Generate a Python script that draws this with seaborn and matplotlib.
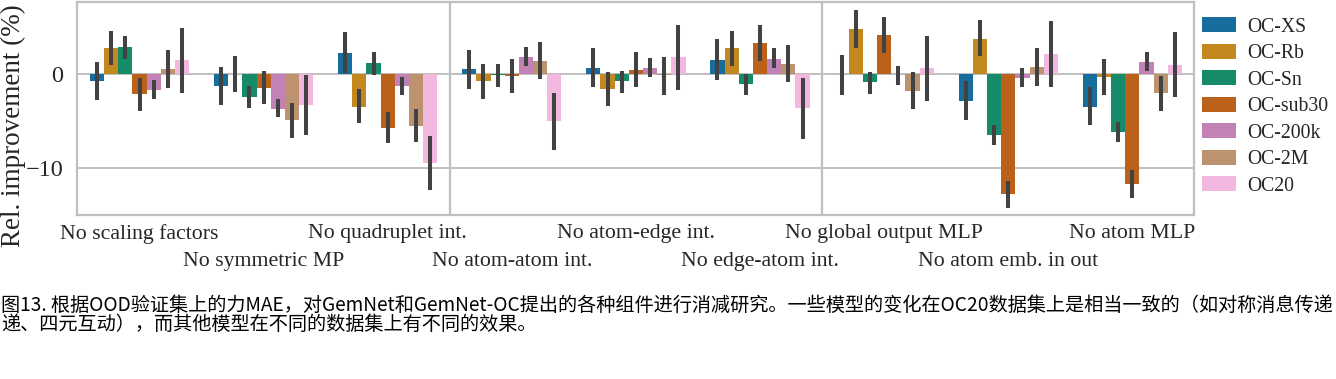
import numpy as np
import pandas as pd
import matplotlib
matplotlib.use("Agg")
import matplotlib.pyplot as plt
import seaborn as sns

# ablations (x axis)
ablations = ["No scaling factors", "No symmetric MP", "No quadruplet int.",
             "No atom-atom int.", "No atom-edge int.", "No edge-atom int.",
             "No global output MLP", "No atom emb. in out", "No atom MLP"]
datasets = ["OC-XS", "OC-Rb", "OC-Sn", "OC-sub30", "OC-200k", "OC-2M", "OC20"]

# relative improvement (%) per dataset, one value per ablation
oc_xs = [-0.8, -1.3, 2.25, 0.5, 0.65, 1.5, -0.05, -2.85, -3.5]
oc_rb = [2.75, 0.0, -3.5, -0.75, -1.6, 2.7, 4.8, 3.75, -0.35]
oc_sn = [2.85, -2.5, 1.15, -0.1, -0.75, -1.1, -0.9, -6.5, -6.2]
oc_sub30 = [-2.15, -1.5, -5.75, -0.2, 0.45, 3.3, 4.1, -12.8, -11.7]
oc_200k = [-1.7, -3.7, -1.3, 1.75, 0.65, 1.6, -0.05, -0.45, 1.3]
oc_2m = [0.55, -4.9, -5.5, 1.4, -0.1, 1.0, -1.8, 0.75, -2.05]
oc20 = [1.5, -3.3, -9.5, -5.05, 1.75, -3.65, 0.6, 2.15, 0.95]

# error bar ends (low, high)
err_lo = [
    [-2.8, -3.3, 0.1, -1.6, -1.45, -0.65, -2.2, -4.9, -5.45],
    [0.9, -1.9, -5.25, -2.65, -3.45, 0.8, 2.75, 1.85, -2.2],
    [1.6, -3.6, -0.1, -1.35, -2.0, -2.2, -2.1, -7.6, -7.3],
    [-3.9, -3.25, -7.4, -2.0, -1.35, 1.4, 2.2, -14.3, -13.2],
    [-2.7, -4.6, -2.3, 0.8, -0.35, 0.6, -1.2, -1.45, 0.3],
    [-1.5, -6.8, -7.3, -0.6, -2.2, -0.9, -3.7, -1.3, -4.0],
    [-2.0, -6.5, -12.4, -8.1, -1.7, -6.9, -2.85, -1.35, -2.5],
]
err_hi = [
    [1.3, 0.7, 4.5, 2.5, 2.8, 3.7, 1.95, -0.8, -1.45],
    [4.6, 1.9, -1.6, 1.0, 0.15, 4.6, 6.75, 5.75, 1.55],
    [4.0, -1.3, 2.3, 1.0, 0.35, 0.0, 0.15, -5.45, -5.15],
    [-0.4, 0.25, -4.1, 1.55, 2.3, 5.2, 6.0, -11.4, -10.2],
    [-0.65, -2.7, -0.3, 2.9, 1.65, 2.7, 0.85, 0.6, 2.35],
    [2.5, -3.1, -3.7, 3.4, 1.75, 3.1, 0.15, 2.75, -0.2],
    [4.9, -0.1, -6.6, -2.0, 5.2, -0.45, 4.05, 5.65, 4.4],
]

values = [oc_xs, oc_rb, oc_sn, oc_sub30, oc_200k, oc_2m, oc20]
rows = []
for d, vals in zip(datasets, values):
    for a, v in zip(ablations, vals):
        rows.append({"ablation": a, "dataset": d, "value": v})
df = pd.DataFrame(rows)

sns.set_theme(style="whitegrid", palette="colorblind")
plt.rcParams["font.family"] = ["Liberation Serif", "DejaVu Serif"]

fig = plt.figure(figsize=(13.36, 3.79), dpi=100)
ax = fig.add_axes([0.058, 0.433, 0.836, 0.562])

sns.barplot(data=df, x="ablation", y="value", hue="dataset", order=ablations,
            hue_order=datasets, palette="colorblind", errorbar=None,
            saturation=0.75, linewidth=0, ax=ax)

# error bars on the drawn bars
for j, cont in enumerate(ax.containers):
    for i, bar in enumerate(cont.patches):
        xc = bar.get_x() + bar.get_width() / 2
        ax.vlines(xc, err_lo[j][i], err_hi[j][i], color=".26", lw=2.9, zorder=5)

# separators between groups of ablations
for xs in [2.5, 5.5]:
    ax.axvline(xs, color=".75", lw=1.6, zorder=1)

ax.set_xlim(-0.5, len(ablations) - 0.5)
ax.set_ylim(-15.0, 7.65)
ax.set_yticks([-10, 0])
ax.set_yticklabels(["\u221210", "0"], fontsize=17.5)
ax.set_xlabel("")
ax.set_ylabel("Rel. improvement (%)", fontsize=19.5)
ax.yaxis.set_label_coords(-0.0457, 0.418)
ax.grid(axis="x", visible=False)
ax.grid(axis="y", color=".75", lw=1.4)
for s in ax.spines.values():
    s.set_color(".75")
    s.set_linewidth(1.6)

ax.set_xticks(range(len(ablations)))
ax.set_xticklabels(ablations, fontsize=15.7)
ax.tick_params(axis="x", pad=0.5)
ax.tick_params(axis="y", pad=4)
# every other label goes on a second row
for i, tick in enumerate(ax.xaxis.get_major_ticks()):
    if i % 2 == 1:
        tick.set_pad(20.7)

ax.legend(loc="upper left", bbox_to_anchor=(1.0, 0.965), frameon=False,
          fontsize=14.2, handlelength=1.7, handleheight=0.8,
          labelspacing=0.36, borderaxespad=0.0, handletextpad=0.6)

cap1 = ("图13. 根据OOD验证集上的力MAE，对GemNet和GemNet-OC提出的各种组件进行消减研究。"
        "一些模型的变化在OC20数据集上是相当一致的（如对称消息传递")
cap2 = "递、四元互动），而其他模型在不同的数据集上有不同的效果。"
fig.text(0.001, 1 - 305 / 379, cap1, family=["Noto Sans CJK SC"], fontsize=13.8,
         va="center", ha="left", color="black")
fig.text(0.001, 1 - 324 / 379, cap2, family=["Noto Sans CJK SC"], fontsize=13.8,
         va="center", ha="left", color="black")

fig.savefig("out.png", dpi=100, facecolor="white")
